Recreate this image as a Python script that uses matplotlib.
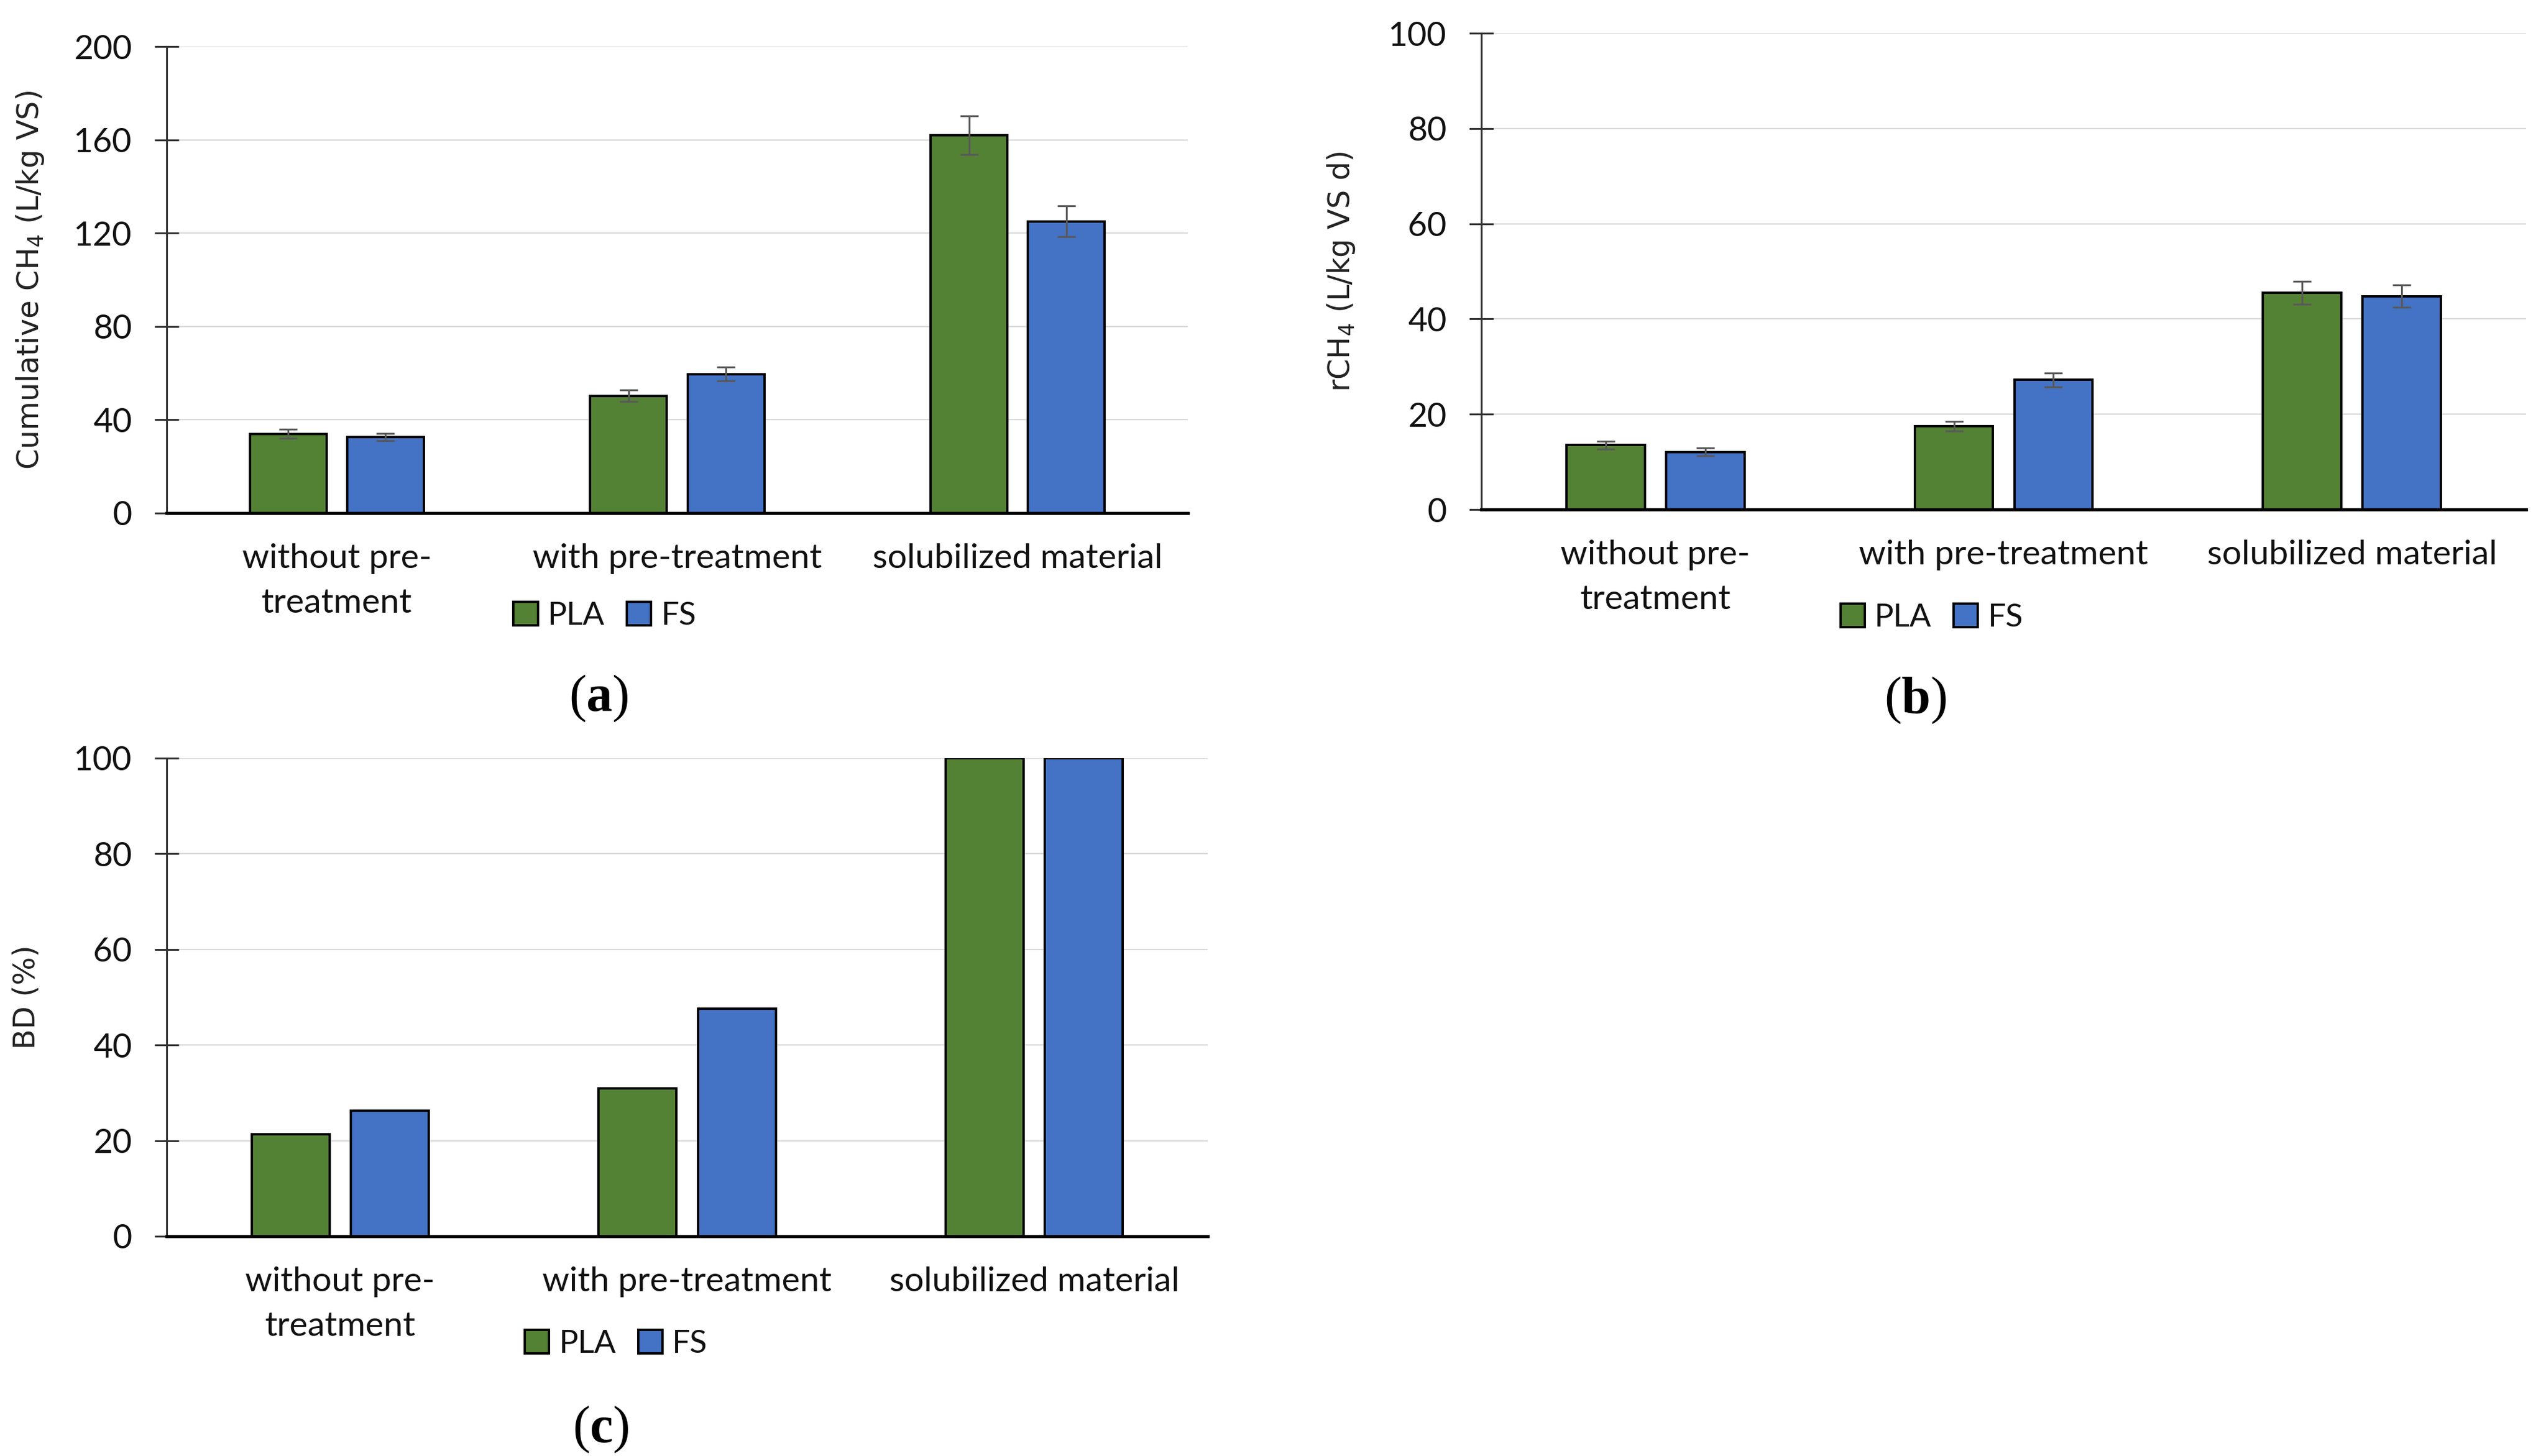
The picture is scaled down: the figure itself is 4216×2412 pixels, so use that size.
import matplotlib
matplotlib.use("Agg")
import matplotlib.pyplot as plt
import numpy as np

plt.rcParams['mathtext.fontset'] = 'custom'
plt.rcParams['mathtext.rm'] = 'DejaVu Sans'
plt.rcParams['mathtext.it'] = 'DejaVu Sans:italic'
plt.rcParams['mathtext.bf'] = 'Liberation Serif:bold'

# ---------------- data ----------------
categories = ["without pre-\ntreatment", "with pre-treatment", "solubilized material"]
series = ["PLA", "FS"]

cum_pla = [34.0, 50.3, 162.0]
cum_fs = [32.6, 59.6, 125.0]
cum_pla_err = [2.0, 2.5, 8.2]
cum_fs_err = [1.6, 3.0, 6.6]

r_pla = [13.5, 17.5, 45.5]
r_fs = [12.1, 27.2, 44.8]
r_pla_err = [0.8, 1.0, 2.4]
r_fs_err = [0.8, 1.5, 2.4]

bd_pla = [21.4, 30.9, 100.0]
bd_fs = [26.3, 47.6, 100.0]

green = "#548235"
blue = "#4472C4"

W, H = 4216, 2412
DPI = 100
fig = plt.figure(figsize=(W / DPI, H / DPI), dpi=DPI)

def px2fig(x0, y0, x1, y1):
    return [x0 / W, 1 - y1 / H, (x1 - x0) / W, (y1 - y0) / H]

ax_a = fig.add_axes(px2fig(276, 77, 1967, 850))
ax_b = fig.add_axes(px2fig(2453, 55, 4183, 844))
ax_c = fig.add_axes(px2fig(276, 1256, 2000, 2048))

bw = 0.225
off = 0.143

def style(ax, ymax, step, ylabel, labx, legx, legy):
    ax.set_xlim(-0.5, 2.5)
    ax.set_ylim(0, ymax)
    ax.set_yticks(np.arange(0, ymax + 0.1, step))
    ax.yaxis.grid(True, color="#d9d9d9", linewidth=1.6, zorder=0)
    ax.set_axisbelow(True)
    for s in ["top", "right"]:
        ax.spines[s].set_visible(False)
    ax.spines["left"].set_color("#333333")
    ax.spines["left"].set_linewidth(2.2)
    ax.spines["bottom"].set_color("black")
    ax.spines["bottom"].set_linewidth(3.8)
    ax.spines["bottom"].set_zorder(5)
    ax.tick_params(axis="y", direction="inout", length=29, width=2.2, color="#333333",
                   pad=27, labelsize=40)
    ax.tick_params(axis="x", length=0, pad=36, labelsize=41)
    ax.set_xticks(range(len(categories)))
    ax.set_xticklabels(categories)
    for t in ax.get_xticklabels() + ax.get_yticklabels():
        t.set_fontfamily("Lato")
        t.set_color("#111111")
    for t in ax.get_xticklabels():
        t.set_linespacing(1.55)
    ax.set_ylabel(ylabel, fontsize=35.5, fontfamily="DejaVu Sans", color="#222222")
    ax.yaxis.set_label_coords(labx, 0.5)
    leg = ax.legend(loc="center", bbox_to_anchor=(legx, legy), ncol=2, frameon=False,
                    prop={"family": "Lato", "size": 38}, handlelength=0.76,
                    handleheight=0.76, handletextpad=0.3, columnspacing=0.7,
                    borderaxespad=0, borderpad=0)
    for t in leg.get_texts():
        t.set_color("#111111")

def bars(ax, pla, fs, pla_err=None, fs_err=None):
    x = np.arange(len(categories))
    ekw = dict(ecolor="#595959", elinewidth=2.2, capsize=11, capthick=2.2)
    if pla_err is None:
        ax.bar(x - off, pla, bw, color=green, edgecolor="black", linewidth=2.8,
               label=series[0], zorder=2)
        ax.bar(x + off, fs, bw, color=blue, edgecolor="black", linewidth=2.8,
               label=series[1], zorder=2)
    else:
        ax.bar(x - off, pla, bw, color=green, edgecolor="black", linewidth=2.8,
               label=series[0], zorder=2, yerr=pla_err, error_kw=ekw)
        ax.bar(x + off, fs, bw, color=blue, edgecolor="black", linewidth=2.8,
               label=series[1], zorder=2, yerr=fs_err, error_kw=ekw)

bars(ax_a, cum_pla, cum_fs, cum_pla_err, cum_fs_err)
style(ax_a, 200, 40, "Cumulative CH$_4$ (L/kg VS)", -0.118, 0.429, -0.22)

bars(ax_b, r_pla, r_fs, r_pla_err, r_fs_err)
style(ax_b, 100, 20, "rCH$_4$ (L/kg VS d)", -0.119, 0.431, -0.227)

bars(ax_c, bd_pla, bd_fs)
style(ax_c, 100, 20, "BD (%)", -0.121, 0.4316, -0.225)

for lab, (x, y) in zip(["a", "b", "c"], [(991, 1157), (3172, 1160), (995, 2368)]):
    fig.text(x / W, 1 - y / H, "(" + r"$\mathbf{" + lab + "}$" + ")", ha="center", va="center",
             fontsize=62, fontfamily="Liberation Serif", color="black")

fig.savefig("out.png", dpi=DPI, facecolor="white")
